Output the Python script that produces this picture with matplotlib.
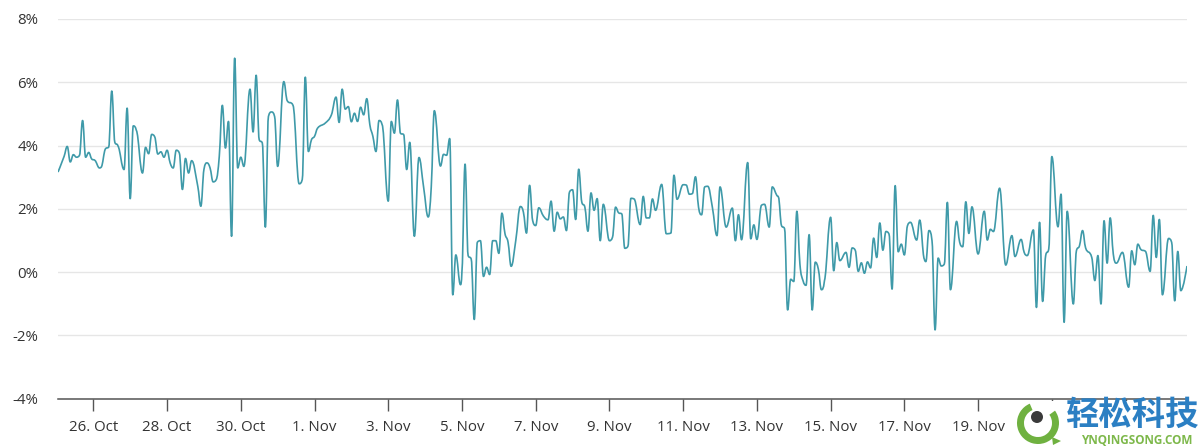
#!/usr/bin/env python3
"""Percent change line, 25 Oct to 24 Nov, with the site watermark in the corner."""

import matplotlib
matplotlib.use("Agg")
import matplotlib.dates as mdates
import matplotlib.pyplot as plt
import pandas as pd
from matplotlib.patches import Circle, PathPatch, Polygon, Rectangle, Wedge
from matplotlib.path import Path

plt.rcParams["font.family"] = ["Open Sans", "DejaVu Sans"]

START = pd.Timestamp("2018-10-25")

# hours since START
hours_a = [1, 5, 7, 9, 11, 13, 15, 17, 19, 21, 23, 25, 28, 29, 32, 34, 36, 38, 40, 44,
           46, 48, 50, 52, 56, 58, 60, 62, 64, 66, 68, 70, 72, 74, 76, 78, 80, 82, 84, 86,
           88, 92, 94, 96, 98, 100, 102, 104, 106, 108, 110, 112, 114, 116, 118, 120, 122,
           126, 128, 130, 132, 134, 136, 138, 140, 142, 144, 148, 150, 154, 158, 160, 162,
           164, 166, 168, 170, 175, 179, 182, 184, 186, 188, 190, 192, 194, 196, 198, 200,
           202, 204, 206, 208, 210, 212, 216, 218, 220, 222]
values_a = [3.16, 3.66, 3.97, 3.48, 3.71, 3.63, 3.69, 4.79, 3.63, 3.78, 3.57, 3.53, 3.29, 3.31,
            3.90, 3.95, 5.72, 4.10, 3.99, 3.24, 5.18, 2.32, 4.62, 4.48, 3.13, 3.94, 3.74, 4.35,
            4.27, 3.73, 3.80, 3.63, 3.85, 3.45, 3.29, 3.85, 3.76, 2.61, 3.59, 3.13, 3.52, 2.71,
            2.08, 3.24, 3.45, 3.29, 2.85, 2.92, 3.66, 5.27, 3.92, 4.76, 1.13, 6.76, 3.29, 3.63,
            3.34, 5.78, 4.43, 6.22, 4.18, 4.08, 1.42, 4.92, 5.06, 4.92, 3.34, 6.02, 5.44, 5.27,
            2.79, 2.92, 6.16, 3.81, 4.18, 4.29, 4.55, 4.71, 4.97, 5.53, 4.73, 5.78, 5.15, 5.23,
            4.75, 5.02, 4.76, 5.21, 4.97, 5.48, 4.66, 4.29, 3.81, 4.79, 4.66, 2.24, 4.76, 4.39,
            5.44]

hours_b = [224, 226, 228, 230, 233, 236, 239, 242, 244, 246, 250, 252, 254, 256, 258, 260, 263,
           264, 266, 268, 270, 272, 274, 276, 278, 280, 282, 284, 286, 288, 290, 292, 294, 296,
           299, 302, 304, 306, 308, 310, 312, 314, 317, 320, 322, 324, 326, 328, 330, 332, 334,
           336, 338, 340, 342, 344, 346, 348, 350, 352, 354, 356, 360, 362, 364, 366, 368, 370,
           372, 374, 376, 380, 382, 384, 386, 388, 390, 394, 397, 400, 402, 404, 408, 410, 412,
           414, 416, 418, 420, 422, 424, 427, 430, 432, 436, 440, 442, 444, 446, 450, 452, 454,
           456, 459, 461, 464, 466, 469, 470, 472, 474, 476, 478, 480, 482, 484]
values_b = [4.38, 4.35, 3.24, 4.10, 1.13, 3.62, 2.69, 1.74, 2.69, 5.10, 3.35, 3.72, 3.69, 4.22,
            -0.72, 0.54, -0.40, 0.04, 3.41, 0.52, 0.41, -1.50, 0.94, 0.99, -0.14, 0.15, -0.08,
            0.99, 0.99, 0.59, 1.86, 1.21, 0.94, 0.18, 0.99, 2.07, 1.89, 1.23, 2.74, 1.63, 1.47,
            2.03, 1.77, 1.65, 2.24, 1.29, 1.89, 1.68, 1.74, 1.31, 2.53, 2.60, 1.66, 3.25, 2.21,
            2.05, 1.29, 2.50, 1.95, 2.32, 0.99, 2.14, 0.99, 1.10, 2.05, 1.87, 1.84, 0.75, 0.81,
            2.33, 2.31, 1.50, 2.39, 1.71, 1.71, 2.31, 1.95, 2.77, 1.21, 1.23, 3.06, 2.30, 2.76,
            2.75, 2.46, 2.48, 3.01, 2.05, 1.81, 2.69, 2.71, 2.05, 1.15, 2.69, 1.42, 2.02, 0.99,
            1.81, 1.02, 3.46, 1.05, 1.49, 1.03, 2.11, 2.14, 1.42, 2.69, 2.42, 2.37, 1.47, 1.37,
            -1.20, -0.23, -0.30, 1.92, 0.25]

hours_c = [486, 488, 490, 492, 494, 496, 498, 500, 504, 506, 508, 510, 514, 516, 518, 520, 522,
           524, 526, 528, 530, 532, 534, 536, 538, 540, 542, 544, 546, 548, 550, 552, 554, 556,
           560, 562, 565, 566, 568, 570, 572, 574, 576, 578, 580, 582, 586, 588, 590, 592, 594,
           596, 600, 604, 606, 608, 610, 614, 618, 622, 624, 628, 630, 632, 636, 638, 640, 642,
           644, 646, 648, 652, 654, 656, 658, 662, 664, 666, 668, 670, 674, 676, 678, 680, 682,
           684, 686, 688, 690, 694, 698, 700, 702, 704, 706, 709, 712, 714, 716, 718, 720, 724,
           726, 728, 730, 732, 736]
values_c = [-0.27, -0.42, 1.18, -1.20, 0.31, 0.09, -0.56, -0.27, 1.73, 0.04, 0.93, 0.36, 0.62,
            0.15, 0.76, 0.69, 0.02, 0.29, -0.04, 0.32, 0.13, 1.07, 0.46, 1.55, 0.69, 1.28, 1.20,
            -0.54, 2.73, 0.64, 0.88, 0.54, 1.46, 1.57, 1.01, 1.64, 0.41, 0.33, 1.31, 0.99, -1.83,
            0.44, 0.19, 0.25, 2.20, -0.56, 1.60, 0.94, 0.80, 2.22, 1.22, 2.06, 0.57, 1.92, 1.01,
            1.35, 1.28, 2.65, 0.22, 1.15, 0.49, 1.03, 0.62, 0.52, 1.33, -1.12, 1.57, -0.93, 0.52,
            0.73, 3.65, 1.43, 2.46, -1.59, 1.92, -1.01, 0.67, 0.83, 1.31, 0.76, 0.46, -0.27, 0.52,
            -1.01, 1.62, 0.28, 1.71, 0.57, 0.28, 0.62, -0.48, 0.67, 0.23, 0.88, 0.71, 0.65, 0.02,
            1.79, 0.46, 1.66, -0.72, 1.06, 0.94, -0.91, 0.65, -0.59, 0.19]

y_ticks = [-4, -2, 0, 2, 4, 6, 8]
tick_days = pd.date_range("2018-10-26", "2018-11-23", freq="2D")
hidden_labels = ["21. Nov", "23. Nov"]  # sit under the watermark in the original


def control_points(xs, ys, i):
    """Left and right bezier handles at point i, flat at local peaks."""
    x, y = xs[i], ys[i]
    if i == 0 or i == len(xs) - 1:
        return (x, y), (x, y)
    xp, yp, xn, yn = xs[i - 1], ys[i - 1], xs[i + 1], ys[i + 1]
    lx, ly = (1.5 * x + xp) / 2.5, (1.5 * y + yp) / 2.5
    rx, ry = (1.5 * x + xn) / 2.5, (1.5 * y + yn) / 2.5
    corr = (ry - ly) * (rx - x) / (rx - lx) + y - ry
    ly += corr
    ry += corr
    if (ly > yp and ly > y) or (ly < yp and ly < y):
        ly = max(yp, y) if ly > y else min(yp, y)
        ry = 2 * y - ly
    if (ry > yn and ry > y) or (ry < yn and ry < y):
        ry = max(yn, y) if ry > y else min(yn, y)
        ly = 2 * y - ry
    return (lx, ly), (rx, ry)


def spline_path(xs, ys):
    verts = [(xs[0], ys[0])]
    codes = [Path.MOVETO]
    for i in range(1, len(xs)):
        verts.append(control_points(xs, ys, i - 1)[1])
        verts.append(control_points(xs, ys, i)[0])
        verts.append((xs[i], ys[i]))
        codes += [Path.CURVE4] * 3
    return Path(verts, codes)


def main():
    times = START + pd.to_timedelta(hours_a + hours_b + hours_c, unit="h")
    values = values_a + values_b + values_c
    xs = [mdates.date2num(t) for t in times]

    fig = plt.figure(figsize=(12, 4.46), dpi=100)
    ax = fig.add_axes([58 / 1200, 1 - 398.5 / 446, 1129 / 1200, 379.5 / 446])
    ax.add_patch(PathPatch(spline_path(xs, values), fill=False, edgecolor="#3f9aa9",
                           linewidth=1.2, joinstyle="round", zorder=3))

    ax.set_xlim(xs[0], xs[-1])
    ax.set_ylim(-4, 8)
    ax.set_yticks(y_ticks)
    ax.set_yticklabels([f"{v}%" for v in y_ticks])
    ax.set_xticks([mdates.date2num(d) for d in tick_days])
    labels = [d.strftime("%-d. %b") for d in tick_days]
    ax.set_xticklabels(["" if lab in hidden_labels else lab for lab in labels])

    ax.grid(True, axis="y", color="#e6e6e6", linewidth=1)
    ax.set_axisbelow(True)
    for side in ["top", "right", "left"]:
        ax.spines[side].set_visible(False)
    ax.spines["bottom"].set_color("#555555")
    ax.spines["bottom"].set_linewidth(1.1)
    ax.tick_params(axis="x", length=8.5, width=1, color="#555555", labelcolor="#333333",
                   labelsize=10.8, pad=7)
    ax.tick_params(axis="y", length=0, labelcolor="#333333", labelsize=10.8, pad=14)

    # watermark, drawn over the last ticks in a pixel-sized overlay
    wm = fig.add_axes([0, 0, 1, 1], zorder=5)
    wm.set_xlim(0, 1200)
    wm.set_ylim(446, 0)
    wm.axis("off")
    wm.add_patch(Rectangle((1012, 401), 188, 45, color="white", linewidth=0))
    wm.add_patch(Wedge((1038, 423), 21, 324, 607, width=7, color="#6fb140", linewidth=0))
    wm.add_patch(Polygon([(1052, 437), (1061, 441), (1053, 445)], color="#6fb140", linewidth=0))
    wm.add_patch(Circle((1037, 417), 6, color="#3a3a3a", linewidth=0))
    wm.text(1132, 415, "轻松科技", family=["Noto Sans CJK SC", "DejaVu Sans"], fontsize=24,
            fontweight="bold", color="#2b7fc3", ha="center", va="center")
    wm.text(1137, 441, "YNQINGSONG.COM", fontsize=8.5, fontweight="bold", color="#7db84a",
            ha="center", va="center")

    fig.savefig("out.png", dpi=100)
    plt.close(fig)


if __name__ == "__main__":
    main()
